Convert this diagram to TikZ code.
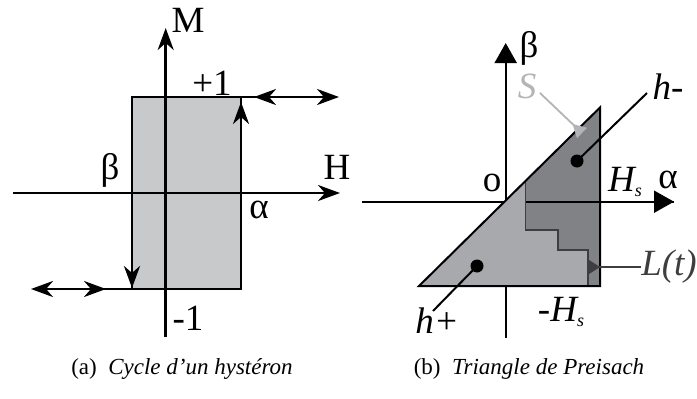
\documentclass[tikz,border=0pt]{standalone}
\usepackage{fontspec}
\setmainfont{Liberation Serif}
\usetikzlibrary{arrows.meta}
\definecolor{rectgray}{HTML}{C8C9CB}
\definecolor{lightg}{HTML}{A7A9AC}
\definecolor{darkg}{HTML}{808285}
\definecolor{stairg}{HTML}{3E3E40}
\definecolor{sgray}{HTML}{B4B4B6}
\tikzset{
  thickline/.style={line width=2.7pt},
  midline/.style={line width=2pt},
  stl/.style={-{Stealth[length=22pt,width=16pt,inset=7pt]}},
  tri/.style={-{Triangle[length=20pt,width=22pt]}},
  biglabel/.style={font=\fontsize{37}{38}\selectfont, inner sep=0pt},
  itlabel/.style={font=\fontsize{37}{38}\selectfont\itshape, inner sep=0pt},
  caplabel/.style={font=\fontsize{23}{24}\selectfont, inner sep=0pt},
  dot/.style={circle, fill=black, inner sep=0pt, minimum size=13pt}
}
\newcommand{\subs}{\raisebox{-5pt}{\fontsize{18}{18}\selectfont s}}
\begin{document}
\begin{tikzpicture}[x=1pt,y=-1pt]
\useasboundingbox (0,0) rectangle (697,399);
% ---------------- left figure ----------------
\coordinate (Mb) at (165.7,337);
\coordinate (Mt) at (165.7,28);
\coordinate (Hl) at (13,193);
\coordinate (Hr) at (340,193);
\coordinate (R1) at (132,97);
\coordinate (R2) at (241,289);
\fill[rectgray] (R1) rectangle (R2);
\draw[thickline, stl] (Mb) -- (Mt);
\draw[thickline, stl] (Hl) -- (Hr);
\draw[thickline] (R1) rectangle (R2);
\coordinate (upS) at (241,200);
\coordinate (upE) at (241,102);
\draw[thickline, stl] (upS) -- (upE);
\coordinate (dnS) at (132,190);
\coordinate (dnE) at (132,288);
\draw[thickline, stl] (dnS) -- (dnE);
% top right double arrow
\coordinate (trA) at (241,97);
\coordinate (trB) at (339,97);
\coordinate (trM1) at (285,97);
\coordinate (trM2) at (254,97);
\draw[thickline, stl] (trA) -- (trB);
\draw[thickline, stl] (trM1) -- (trM2);
% bottom left double arrow
\coordinate (blA) at (132,289);
\coordinate (blB) at (31,289);
\coordinate (blM1) at (75,289);
\coordinate (blM2) at (106,289);
\draw[thickline, stl] (blA) -- (blB);
\draw[thickline, stl] (blM1) -- (blM2);
\node[biglabel] (M) at (188,20) {M};
\node[biglabel] (H) at (337,167) {H};
\node[biglabel] (p1) at (212,83) {+1};
\node[biglabel] (beta) at (110,170) {β};
\node[biglabel] (alpha) at (259,210) {α};
\node[biglabel] (m1) at (188,318) {-1};
% ---------------- right figure ----------------
\coordinate (Bb) at (505.7,338);
\coordinate (Bt) at (505.7,43);
\coordinate (Al) at (362,201.7);
\coordinate (Ar) at (674,201.7);
\draw[midline, tri] (Bb) -- (Bt);
\draw[midline] (Al) -- (Ar);
\coordinate (TA) at (419,286);
\coordinate (TB) at (600,286);
\coordinate (TC) at (600,107.5);
\coordinate (S0) at (525.7,180.8);
\coordinate (S1) at (525.7,230);
\coordinate (S2) at (558,230);
\coordinate (S3) at (558,250);
\coordinate (S4) at (588,250);
\coordinate (S5) at (588,286);
\fill[lightg] (TA) -- (TB) -- (TC) -- cycle;
\fill[darkg] (S0) -- (TC) -- (TB) -- (S5) -- (S4) -- (S3) -- (S2) -- (S1) -- cycle;
\coordinate (Aax) at (525.7,201.7);
\draw[midline, tri] (Aax) -- (Ar);
\draw[line width=1.5pt, stairg] (S0) -- (S1) -- (S2) -- (S3) -- (S4) -- (S5);
\draw[midline, line join=miter] (TA) -- (TB) -- (TC) -- cycle;
% labels
\node[biglabel] (beta2) at (529,48) {β};
\node[biglabel] (o) at (492,183) {o};
\node[itlabel] (Hs) at (625,182) {H\subs};
\node[biglabel] (alpha2) at (668,180) {α};
\node[itlabel, text=sgray] (S) at (527,86) {S};
\node[itlabel] (hm) at (668,87) {h-};
\node[itlabel] (hp) at (437,321) {h+};
\node[itlabel, text=stairg] (Lt) at (669,267) {L(t)};
\node[itlabel] (mHs) at (561,312) {-H\subs};
% dots and leaders
\node[dot] (d1) at (577,161) {};
\node[dot] (d2) at (477,266) {};
\coordinate (hmE) at (647,93);
\coordinate (hpE) at (433,311);
\draw[midline] (d1.center) -- (hmE);
\draw[midline] (d2.center) -- (hpE);
\coordinate (Sst) at (540,93);
\coordinate (Sen) at (582,133);
\draw[line width=1.8pt, sgray, -{Triangle[reversed,length=13pt,width=14pt]}] (Sst) -- (Sen);
\coordinate (Ltst) at (641,267);
\coordinate (Lten) at (588,267);
\draw[line width=1.6pt, stairg, -{Triangle[reversed,length=12pt,width=15pt]}] (Ltst) -- (Lten);
% captions
\node[caplabel] (capa) at (182,369) {(a)\ \ \textit{Cycle d’un hystéron}};
\node[caplabel] (capb) at (529,369) {(b)\ \ \textit{Triangle de Preisach}};
\end{tikzpicture}
\end{document}
